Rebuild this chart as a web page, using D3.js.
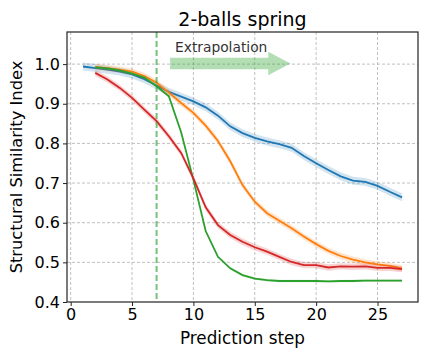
<!DOCTYPE html>
<html lang="en">
<head>
<meta charset="utf-8">
<script src="https://cdn.jsdelivr.net/npm/d3@7"></script>
<style>
  body { margin: 0; background: #fff; }
  svg text { font-family: "DejaVu Sans", sans-serif; }
</style>
</head>
<body>
<div id="chart"></div>
<script>
// values
const stepsBlue = d3.range(1, 28)
const stepsOther = d3.range(2, 28)

const blue = [0.994, 0.990, 0.986, 0.981, 0.974, 0.962, 0.946, 0.930, 0.918, 0.906,
              0.891, 0.870, 0.843, 0.826, 0.814, 0.805, 0.798, 0.789, 0.768, 0.750,
              0.733, 0.717, 0.706, 0.703, 0.693, 0.678, 0.664]
const orange = [0.993, 0.990, 0.986, 0.981, 0.970, 0.953, 0.928, 0.902, 0.877,
                0.845, 0.806, 0.755, 0.695, 0.653, 0.624, 0.605, 0.586, 0.565, 0.546,
                0.529, 0.516, 0.507, 0.500, 0.495, 0.491, 0.485]
const green = [0.992, 0.989, 0.984, 0.976, 0.966, 0.944, 0.919, 0.828, 0.708,
               0.579, 0.514, 0.485, 0.468, 0.459, 0.455, 0.453, 0.453, 0.453, 0.453,
               0.452, 0.453, 0.453, 0.454, 0.454, 0.454, 0.454]
const red = [0.978, 0.961, 0.940, 0.915, 0.885, 0.856, 0.818, 0.776, 0.712,
             0.639, 0.594, 0.569, 0.552, 0.538, 0.527, 0.514, 0.501, 0.493, 0.493,
             0.487, 0.490, 0.489, 0.490, 0.486, 0.486, 0.483]
const spread = [0.010, 0.008, 0.003, 0.008]

const xTicks = [0, 5, 10, 15, 20, 25]
const yTicks = [0.4, 0.5, 0.6, 0.7, 0.8, 0.9, 1.0]
const splitStep = 7

const w = 432, h = 360
const padL = 67, padR = 418, padT = 32, padB = 302

const svg = d3.select('#chart').append('svg')
    .attr('width', w).attr('height', h)

const scaleX = d3.scaleLinear().domain([-0.3, 28.3]).range([padL, padR])
const scaleY = d3.scaleLinear().domain([0.4, 1.081]).range([padB, padT])

// grid
svg.append('g').selectAll('line')
    .data(xTicks).enter().append('line')
    .attr('x1', d => scaleX(d)).attr('x2', d => scaleX(d))
    .attr('y1', padT).attr('y2', padB)
    .attr('stroke', '#b0b0b0').attr('stroke-width', 0.8)
    .attr('stroke-dasharray', '3,2')
svg.append('g').selectAll('line')
    .data(yTicks.slice(1)).enter().append('line')
    .attr('x1', padL).attr('x2', padR)
    .attr('y1', d => scaleY(d)).attr('y2', d => scaleY(d))
    .attr('stroke', '#b0b0b0').attr('stroke-width', 0.8)
    .attr('stroke-dasharray', '3,2')

const series = [
  {xs: stepsBlue, ys: blue, color: '#1f77b4'},
  {xs: stepsOther, ys: orange, color: '#ff7f0e'},
  {xs: stepsOther, ys: green, color: '#2ca02c'},
  {xs: stepsOther, ys: red, color: '#d62728'}
]

const plot = svg.append('g')

series.forEach(function(s, k) {
  const pts = s.xs.map((x, i) => [x, s.ys[i]])
  const area = d3.area()
      .x(d => scaleX(d[0]))
      .y0(d => scaleY(d[1] - spread[k]))
      .y1(d => scaleY(d[1] + spread[k]))
  plot.append('path').datum(pts)
      .attr('d', area)
      .attr('fill', s.color).attr('opacity', 0.2)
  const line = d3.line().x(d => scaleX(d[0])).y(d => scaleY(d[1]))
  plot.append('path').datum(pts)
      .attr('d', line)
      .attr('fill', 'none').attr('stroke', s.color).attr('stroke-width', 1.8)
})

// extrapolation marker
svg.append('line')
    .attr('x1', scaleX(splitStep)).attr('x2', scaleX(splitStep))
    .attr('y1', padT).attr('y2', padB)
    .attr('stroke', '#2ca02c').attr('stroke-opacity', 0.65)
    .attr('stroke-width', 2).attr('stroke-dasharray', '6,3')

const ax = scaleX(8.1), bx = scaleX(16.1), tx = scaleX(17.9), ay = 63.5
svg.append('path')
    .attr('d', 'M' + ax + ',' + (ay - 5.8) + 'L' + bx + ',' + (ay - 5.8) +
               'L' + bx + ',' + (ay - 11.8) + 'L' + tx + ',' + ay +
               'L' + bx + ',' + (ay + 11.8) + 'L' + bx + ',' + (ay + 5.8) +
               'L' + ax + ',' + (ay + 5.8) + 'Z')
    .attr('fill', '#2ca02c').attr('opacity', 0.36)

svg.append('text')
    .attr('x', scaleX(8.5)).attr('y', 52)
    .attr('font-size', 13.8).attr('fill', '#333')
    .text('Extrapolation')

// axes
const xAxis = d3.axisBottom(scaleX).tickValues(xTicks).tickSize(4).tickPadding(3)
const yAxis = d3.axisLeft(scaleY).tickValues(yTicks).tickSize(4).tickPadding(3)
    .tickFormat(d3.format('.1f'))

const gx = svg.append('g').attr('transform', 'translate(0,' + padB + ')').call(xAxis)
const gy = svg.append('g').attr('transform', 'translate(' + padL + ',0)').call(yAxis)
gx.select('.domain').remove()
gy.select('.domain').remove()
;[gx, gy].forEach(function(g) {
  g.selectAll('text').attr('font-size', 16).attr('fill', '#000')
      .style('font-family', '"DejaVu Sans", sans-serif')
  g.selectAll('line').attr('stroke', '#222').attr('stroke-width', 1)
})

svg.append('rect')
    .attr('x', padL).attr('y', padT)
    .attr('width', padR - padL).attr('height', padB - padT)
    .attr('fill', 'none').attr('stroke', '#222').attr('stroke-width', 1.2)

// labels
svg.append('text')
    .attr('x', (padL + padR) / 2).attr('y', 26)
    .attr('text-anchor', 'middle').attr('font-size', 19)
    .text('2-balls spring')
svg.append('text')
    .attr('x', (padL + padR) / 2).attr('y', 344)
    .attr('text-anchor', 'middle').attr('font-size', 16.8)
    .text('Prediction step')
svg.append('text')
    .attr('transform', 'translate(22,' + ((padT + padB) / 2) + ') rotate(-90)')
    .attr('text-anchor', 'middle').attr('font-size', 16.3)
    .text('Structural Similarity Index')
</script>
</body>
</html>
